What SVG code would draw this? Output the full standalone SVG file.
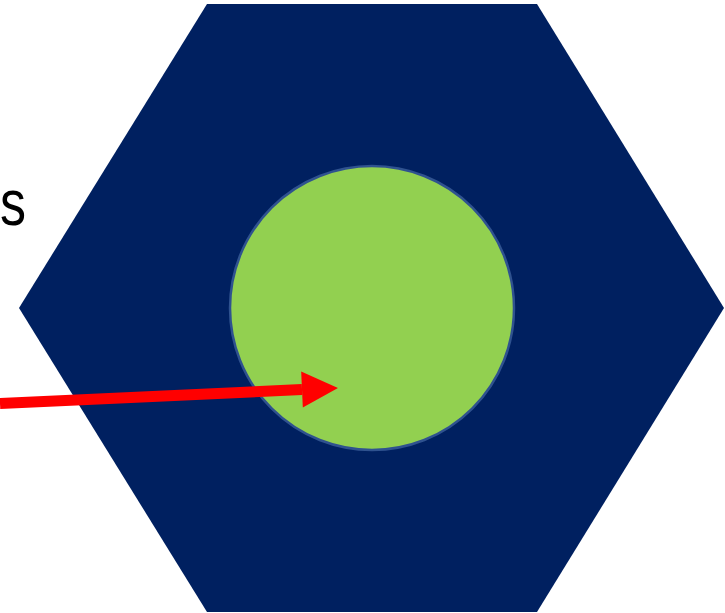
<svg xmlns="http://www.w3.org/2000/svg" width="725" height="613" viewBox="0 0 725 613">
<defs>
<style>
.hex{fill:#002060}
.core{fill:#92D050;stroke:#2F528F;stroke-width:2.5}
.arrow{stroke:#FF0000;stroke-width:11;fill:none}
.lbl{font-family:"Liberation Sans",Arial,sans-serif;font-size:65px;fill:#000}
</style>
<marker id="ah" markerUnits="userSpaceOnUse" markerWidth="40" markerHeight="40" refX="0" refY="18" orient="auto" overflow="visible">
<path d="M0,0 L36,18 L0,36 Z" fill="#FF0000"/>
</marker>
</defs>
<rect width="725" height="613" fill="#FFFFFF"/>
<g id="label"><text class="lbl" x="0" y="225" textLength="26" lengthAdjust="spacingAndGlyphs">s</text></g>
<g id="hexagon"><polygon class="hex" points="207,4 537,4 724,308 537,612 207,612 19,308"/></g>
<g id="circle"><circle class="core" cx="372" cy="308" r="142"/></g>
<g id="connectors"><line class="arrow" x1="0" y1="403.5" x2="302" y2="389.6" marker-end="url(#ah)"/></g>
</svg>
